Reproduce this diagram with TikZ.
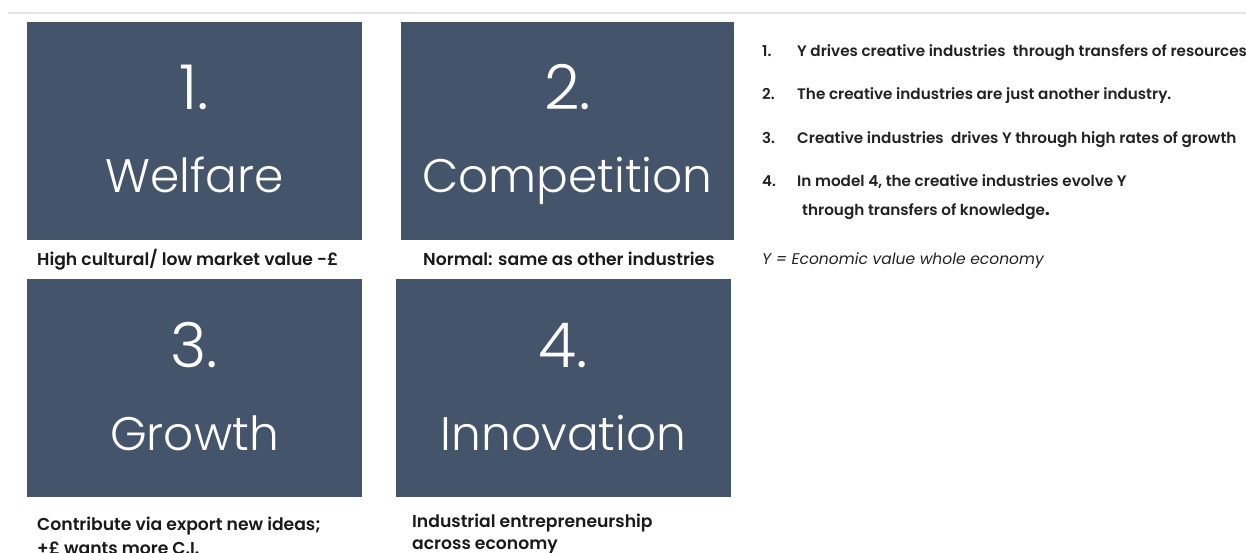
\documentclass[tikz,border=0pt]{standalone}
\usepackage{fontspec}
\setmainfont{Poppins}
\newfontfamily\lightfont{Poppins Light}
\newfontfamily\semifont{Poppins SemiBold}
\definecolor{panelblue}{HTML}{44546A}
\definecolor{topgray}{HTML}{E4E4E4}
\definecolor{captext}{HTML}{1A1A1A}
\definecolor{listtext}{HTML}{222222}
\tikzset{
  panel/.style={fill=panelblue, draw=none, inner sep=0pt, outer sep=0pt, anchor=north west},
  numtxt/.style={text=white, inner sep=0pt, anchor=base, font=\lightfont\fontsize{62}{62}\selectfont},
  wordtxt/.style={text=white, inner sep=0pt, anchor=base, font=\lightfont\fontsize{47}{47}\selectfont},
  captxt/.style={text=captext, inner sep=0pt, anchor=base west, font=\semifont\fontsize{17.2}{17.2}\selectfont},
  listnum/.style={text=listtext, inner sep=0pt, anchor=base west, font=\semifont\fontsize{15}{15}\selectfont},
  listtxt/.style={text=listtext, inner sep=0pt, anchor=base west, font=\semifont\fontsize{15.2}{15.2}\selectfont},
  defntxt/.style={text=listtext, inner sep=0pt, anchor=base west, font=\itshape\fontsize{15.5}{15.5}\selectfont},
}
\begin{document}
\begin{tikzpicture}[x=1pt,y=-1pt]
\useasboundingbox (0,0) rectangle (1246,553);
\clip (0,0) rectangle (1246,553);
\fill[white] (0,0) rectangle (1246,553);
\coordinate (tl) at (8,13);
\coordinate (tr) at (1246,13);
\draw[topgray, line width=1.5pt] (tl) -- (tr);

% panels
\node[panel, minimum width=335pt, minimum height=218pt] (b1) at (27,22) {};
\node[panel, minimum width=333pt, minimum height=218pt] (b2) at (401,22) {};
\node[panel, minimum width=335pt, minimum height=218pt] (b3) at (27,279) {};
\node[panel, minimum width=335pt, minimum height=218pt] (b4) at (396,279) {};

\node[numtxt] (n1) at ([yshift=-88pt]b1.north) {1.};
\node[wordtxt] (w1) at ([yshift=-171pt]b1.north) {Welfare};
\node[numtxt] (n2) at ([yshift=-88pt]b2.north) {2.};
\node[wordtxt] (w2) at ([yshift=-171pt]b2.north) {Competition};
\node[numtxt] (n3) at ([yshift=-88pt]b3.north) {3.};
\node[wordtxt] (w3) at ([yshift=-171pt]b3.north) {Growth};
\node[numtxt] (n4) at ([yshift=-88pt]b4.north) {4.};
\node[wordtxt] (w4) at ([yshift=-171pt]b4.north) {Innovation};

% captions
\node[captxt] (c1) at (37,265) {High cultural/ low market value -£};
\node[captxt] (c2) at (423,265) {Normal: same as other industries};
\node[captxt] (c3a) at (37,530) {Contribute via export new ideas;};
\node[captxt] (c3b) at (37,554) {+£ wants more C.I.};
\node[captxt] (c4a) at (412,527) {Industrial entrepreneurship};
\node[captxt] (c4b) at (412,549) {across economy};

% list
\node[listnum] (l1n) at (762,57) {1.};
\node[listtxt] (l1t) at (797,57) {Y drives creative industries\ \ through transfers of resources};
\node[listnum] (l2n) at (762,100) {2.};
\node[listtxt] (l2t) at (797,100) {The creative industries are just another industry.};
\node[listnum] (l3n) at (762,144) {3.};
\node[listtxt] (l3t) at (797,144) {Creative industries\ \ drives Y through high rates of growth};
\node[listnum] (l4n) at (762,187) {4.};
\node[listtxt] (l4t) at (797,187) {In model 4, the creative industries evolve Y};
\node[listtxt] (l4c) at (802,216) {through transfers of knowledge{\fontsize{20}{20}\selectfont.}};
\node[defntxt] (yd) at (762,264) {Y = Economic value whole economy};
\end{tikzpicture}
\end{document}
